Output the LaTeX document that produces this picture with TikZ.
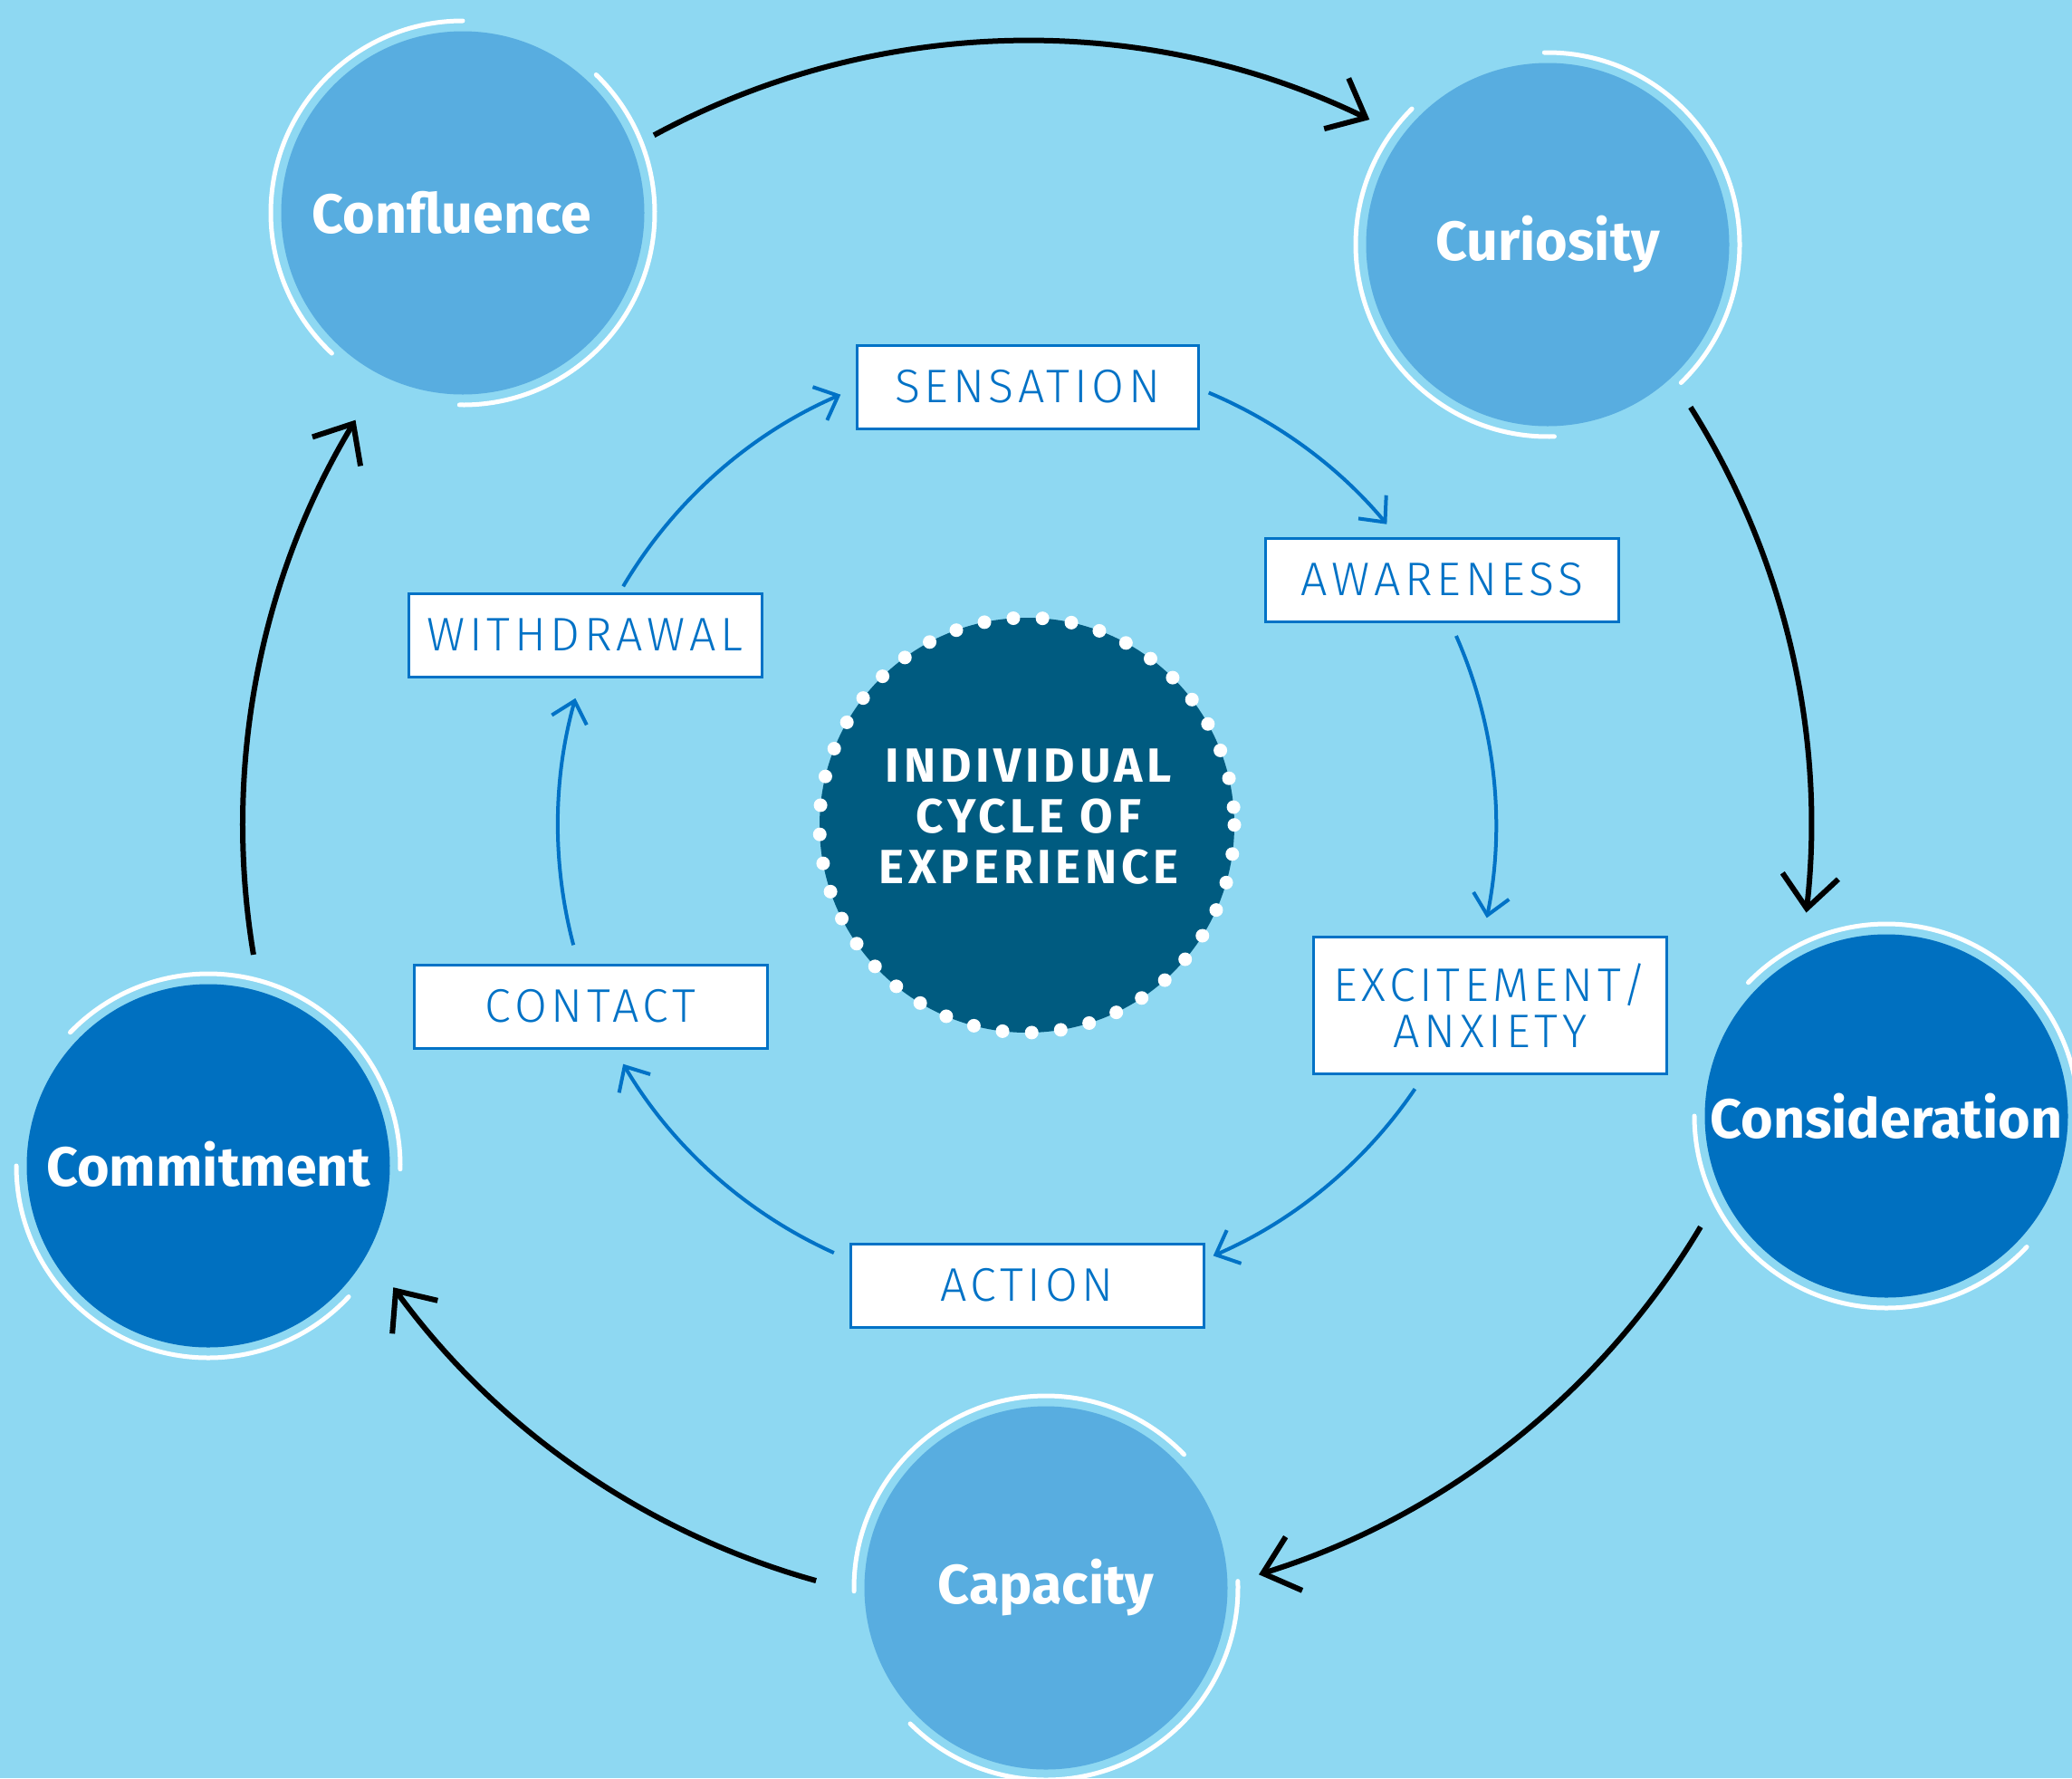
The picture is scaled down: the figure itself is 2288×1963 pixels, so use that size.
\documentclass[tikz,border=0pt]{standalone}
\usepackage{fontspec}
\setmainfont{Fira Sans}
\newfontfamily\labfont{Fira Sans Light}[LetterSpace=9]
\newfontfamily\corefont{Fira Sans}[LetterSpace=9]
\usetikzlibrary{arrows.meta,calc}
\definecolor{bgblue}{RGB}{142,216,242}
\definecolor{lightc}{RGB}{88,173,224}
\definecolor{darkc}{RGB}{0,112,192}
\definecolor{corec}{RGB}{0,91,128}
\definecolor{boxblue}{RGB}{0,114,198}
\begin{document}
\begin{tikzpicture}[x=1pt,y=1pt,
  bigcirc/.style={circle, minimum size=401pt, inner sep=0pt, text=white, font=\bfseries\fontsize{61}{61}\selectfont},
  ring/.style={draw=white, line width=5pt, line cap=round},
  stagebox/.style={rectangle, fill=white, draw=boxblue, line width=3pt, minimum width=390pt, minimum height=92pt, inner sep=0pt, text=boxblue, font=\labfont\fontsize{52}{51}\selectfont, align=center},
  outerarrow/.style={draw=black, line width=6pt, -{Straight Barb[length=36pt,width=62pt]}},
  innerarrow/.style={draw=boxblue, line width=4pt, -{Straight Barb[length=22pt,width=40pt]}},
]
\fill[bgblue] (0,0) rectangle (2288,-1963);
\useasboundingbox (0,0) rectangle (2288,-1963);

% centre
\node[circle, minimum size=458pt, inner sep=0pt, fill=corec] (core) at (1134,-911) {};
\foreach \i in {0,...,44} \fill[white] ($(core.center)+(5+8.07*\i:229pt)$) circle[radius=7.5pt];
\node[text=white, align=center, inner sep=0pt,
  font=\corefont\bfseries\fontsize{53}{56}\selectfont] (coretext) at (1136,-902) {INDIVIDUAL\\CYCLE OF\\EXPERIENCE};

% outer circles
\node[bigcirc, fill=lightc, label={[text=white, font=\bfseries\fontsize{61}{61}\selectfont, xshift=-12pt]center:Confluence}] (conf) at (511,-235) {};
\node[bigcirc, fill=lightc] (curi) at (1709,-270) {Curiosity};
\node[bigcirc, fill=darkc] (cons) at (2083,-1232) {Consideration};
\node[bigcirc, fill=lightc] (capa) at (1155,-1753) {Capacity};
\node[bigcirc, fill=darkc] (comm) at (230,-1287) {\raisebox{4pt}{Commitment}};

\foreach \n/\r in {conf/0, curi/45, cons/90, capa/135, comm/90} {
  \draw[ring] ([shift={(90+\r:212pt)}]\n.center) arc[start angle=90+\r, end angle=227+\r, radius=212pt];
  \draw[ring] ([shift={(-91+\r:212pt)}]\n.center) arc[start angle=-91+\r, end angle=46+\r, radius=212pt];
}

% stage boxes
\node[stagebox, minimum width=377pt] (sens) at (1134.5,-427) {SENSATION};
\node[stagebox] (awar) at (1592.5,-640) {AWARENESS};
\node[stagebox, minimum height=151pt] (exci) at (1645.5,-1110) {EXCITEMENT/\\ANXIETY};
\node[stagebox] (acti) at (1134,-1419) {ACTION};
\node[stagebox] (cont) at (652,-1111) {CONTACT};
\node[stagebox] (with) at (646,-701) {WITHDRAWAL};

% outer arrows (arcs about the centre)
\coordinate (o1) at ($(core.center)+(118.4:866pt)$);
\coordinate (o2) at ($(core.center)+(32.2:866pt)$);
\coordinate (o3) at ($(core.center)+(-30.8:866pt)$);
\coordinate (o4) at ($(core.center)+(-105.6:866pt)$);
\coordinate (o5) at ($(core.center)+(-170.5:866pt)$);
\draw[outerarrow] (o1) arc[start angle=118.4, end angle=64.1, radius=866pt];
\draw[outerarrow] (o2) arc[start angle=32.2, end angle=-6.4, radius=866pt];
\draw[outerarrow] (o3) arc[start angle=-30.8, end angle=-72.8, radius=866pt];
\draw[outerarrow] (o4) arc[start angle=-105.6, end angle=-143.9, radius=866pt];
\draw[outerarrow] (o5) arc[start angle=-170.5, end angle=-211.1, radius=866pt];

% inner arrows
\coordinate (i1) at ($(core.center)+(67.2:518pt)$);
\coordinate (i2) at ($(core.center)+(23.8:518pt)$);
\coordinate (i3) at ($(core.center)+(-34.2:518pt)$);
\coordinate (i4) at ($(core.center)+(-114.3:518pt)$);
\coordinate (i5) at ($(core.center)+(-165.2:518pt)$);
\coordinate (i6) at ($(core.center)+(149.4:518pt)$);
\draw[innerarrow] (i1) arc[start angle=67.2, end angle=39.9, radius=518pt];
\draw[innerarrow] (i2) arc[start angle=23.8, end angle=-11.4, radius=518pt];
\draw[innerarrow] (i3) arc[start angle=-34.2, end angle=-66.6, radius=518pt];
\draw[innerarrow] (i4) arc[start angle=-114.3, end angle=-149.4, radius=518pt];
\draw[innerarrow] (i5) arc[start angle=-165.2, end angle=-195.7, radius=518pt];
\draw[innerarrow] (i6) arc[start angle=149.4, end angle=113.4, radius=518pt];
\end{tikzpicture}
\end{document}
